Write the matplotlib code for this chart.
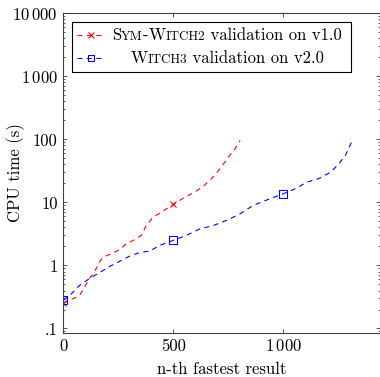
"""CPU time of the n-th fastest validation result, Sym-Witch2 vs Witch3."""

import matplotlib

matplotlib.use("Agg")
import matplotlib.pyplot as plt
from matplotlib.offsetbox import AnnotationBbox, HPacker, TextArea
from matplotlib.patches import Rectangle
from matplotlib.ticker import FixedFormatter, FixedLocator, LogLocator, NullFormatter

plt.rcParams["font.family"] = ["cmr10", "DejaVu Serif"]
plt.rcParams["mathtext.fontset"] = "cm"
plt.rcParams["axes.formatter.use_mathtext"] = True
plt.rcParams["lines.scale_dashes"] = False

# Sym-Witch2 validation on v1.0 (red)
red_x = [0, 27, 73, 96, 119, 141, 164, 180, 218, 256, 286, 324, 355, 377, 408,
         446, 500, 553, 598, 636, 674, 712, 750, 781, 804]
red_y = [0.25, 0.28, 0.33, 0.45, 0.62, 0.78, 1.13, 1.35, 1.53, 1.78, 2.2, 2.56,
         3.0, 4.3, 5.8, 7.0, 9.3, 12.1, 14.6, 18, 23.8, 34, 52, 71, 96]

# Witch3 validation on v2.0 (blue)
blue_x = [0, 35, 73, 119, 157, 210, 263, 301, 347, 393, 438, 500, 560, 621, 682,
          743, 804, 864, 941, 1000, 1055, 1108, 1161, 1215, 1253, 1283, 1314]
blue_y = [0.28, 0.35, 0.48, 0.62, 0.74, 0.96, 1.2, 1.4, 1.6, 1.69, 2.08, 2.5,
          3.0, 3.8, 4.3, 5.2, 6.6, 9.0, 11.5, 13.7, 16.5, 21, 23.8, 30, 41, 56, 96]

y_ticks = [0.1, 1, 10, 100, 1000, 10000]
y_labels = [".1", "1", "10", "100", r"$1\,000$", r"$10\,000$"]
x_ticks = [0, 500, 1000]
x_labels = ["0", "500", r"$1\,000$"]

FS = 12
DASH = (0, (3.6, 3.2))
AX_COLOR = "#404040"


def small_caps(word, size):
    """Fake small caps: first letter full size, the rest upper case and smaller."""
    parts = []
    for piece in word.split("-"):
        if parts:
            parts.append(TextArea("-", textprops=dict(size=size)))
        parts.append(TextArea(piece[0], textprops=dict(size=size)))
        parts.append(TextArea(piece[1:].upper(), textprops=dict(size=size * 0.78)))
    return parts


def legend_label(ax, words, rest, y):
    children = small_caps(words, FS) + [TextArea(rest, textprops=dict(size=FS))]
    pack = HPacker(children=children, align="baseline", pad=0, sep=0)
    ab = AnnotationBbox(pack, (0.517, y), xycoords=ax.transAxes, frameon=False,
                        box_alignment=(0.5, 0.5), pad=0, zorder=7)
    ax.add_artist(ab)


def main():
    fig = plt.figure(figsize=(3.8, 3.77), dpi=100)
    ax = fig.add_axes([0.1666, 0.1175, 0.8334, 0.8472])

    red_marks = [i for i, x in enumerate(red_x) if x % 500 == 0]
    blue_marks = [i for i, x in enumerate(blue_x) if x % 500 == 0]

    ax.plot(red_x, red_y, color="red", lw=0.8, linestyle=DASH, marker="x",
            markersize=5, markeredgewidth=0.8, markevery=red_marks)
    ax.plot(blue_x, blue_y, color="blue", lw=0.8, linestyle=DASH, marker="s",
            markersize=5.5, markerfacecolor="none", markeredgewidth=0.8,
            markevery=blue_marks)

    ax.set_yscale("log")
    ax.set_xlim(0, 1440)
    ax.set_ylim(0.0857, 10000)

    ax.yaxis.set_major_locator(FixedLocator(y_ticks))
    ax.yaxis.set_major_formatter(FixedFormatter(y_labels))
    ax.yaxis.set_minor_locator(LogLocator(base=10, subs=range(2, 10), numticks=20))
    ax.yaxis.set_minor_formatter(NullFormatter())
    ax.xaxis.set_major_locator(FixedLocator(x_ticks))
    ax.xaxis.set_major_formatter(FixedFormatter(x_labels))

    ax.tick_params(which="both", direction="in", top=True, right=True,
                   color=AX_COLOR, labelsize=FS, width=0.6)
    ax.tick_params(which="major", length=3, pad=4)
    ax.tick_params(which="minor", length=1.5)
    for sp in ax.spines.values():
        sp.set_color(AX_COLOR)
        sp.set_linewidth(0.8)

    ax.set_xlabel("n-th fastest result", fontsize=FS)
    ax.set_ylabel("CPU time (s)", fontsize=FS)
    # pgfplots puts the labels closer than the tick label width would allow
    ax.yaxis.set_label_coords(-0.152, 0.5)
    ax.xaxis.set_label_coords(0.5, -0.115)
    ax.xaxis.label.set_va("center")
    ax.yaxis.label.set_va("center")

    # legend drawn by hand so that the labels are centred like pgfplots does
    ax.add_patch(Rectangle((0.0276, 0.817), 0.8804, 0.157, transform=ax.transAxes,
                           facecolor="white", edgecolor="black", lw=0.8, zorder=5))
    for color, marker, y in [("red", "x", 0.931), ("blue", "s", 0.859)]:
        ax.plot([0.044, 0.130], [y, y], transform=ax.transAxes, color=color,
                lw=0.8, linestyle=DASH, zorder=6, clip_on=False)
        ax.plot([0.087], [y], transform=ax.transAxes, color=color, marker=marker,
                markersize=5, markerfacecolor="none", markeredgewidth=0.8,
                zorder=6, clip_on=False)
    legend_label(ax, "Sym-Witch2", " validation on v1.0", 0.931)
    legend_label(ax, "Witch3", " validation on v2.0", 0.859)

    fig.savefig("out.png", dpi=100)


if __name__ == "__main__":
    main()
